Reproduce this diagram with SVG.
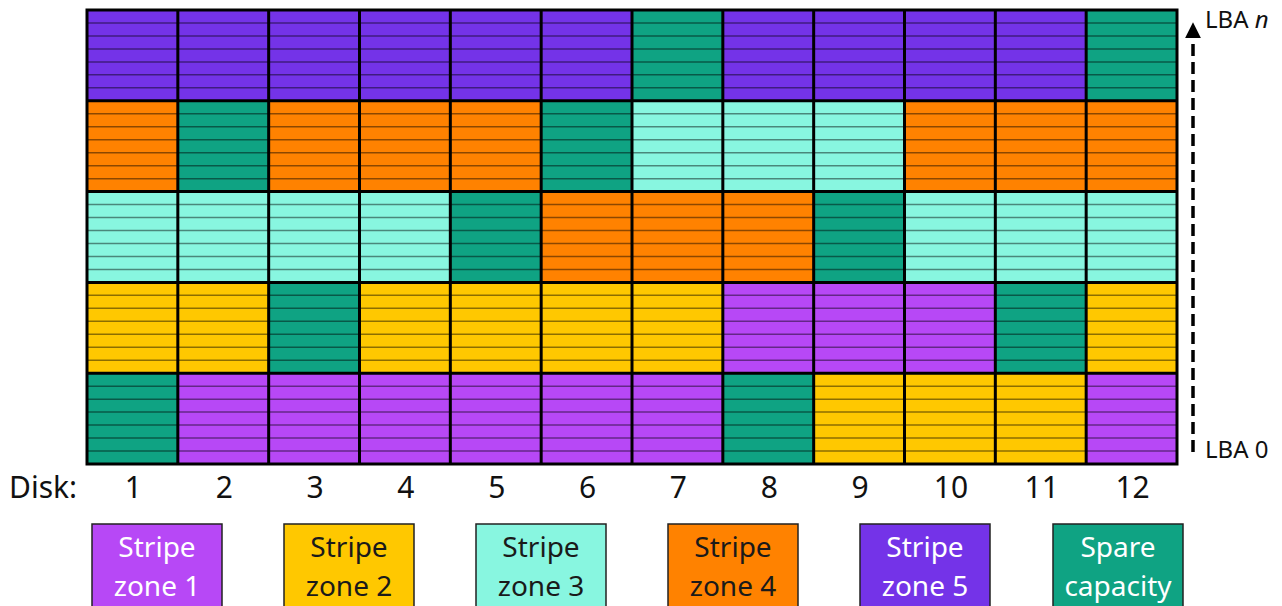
<svg xmlns="http://www.w3.org/2000/svg" width="1282" height="606" viewBox="0 0 1282 606">
<style>
.p5{fill:#7433E8}.p1{fill:#B748F6}.o{fill:#FF8200}.y{fill:#FFC800}.c{fill:#88F6E0}.t{fill:#0FA383}
.lbl{font-family:"Noto Sans","Open Sans",sans-serif;font-size:30px;fill:#111;text-anchor:middle}
.lg{font-family:"Noto Sans","Open Sans",sans-serif;font-size:28px;text-anchor:middle}
.w{fill:#fff}.d{fill:#1a1a1a}
.box{stroke:#222;stroke-width:1.5}
.strip{stroke:#000;stroke-opacity:0.45;stroke-width:1.5;fill:none}
</style>
<defs>
<marker id="ah" viewBox="0 0 10 10" refX="2" refY="5" markerWidth="16" markerHeight="16" markerUnits="userSpaceOnUse" orient="auto">
<path d="M0,0 L10,5 L0,10 Z" fill="#000"/>
</marker>
</defs>
<g id="grid">
<g id="row5">
<rect class="p5" x="87" y="10" width="90.84" height="90.8"/>
<rect class="p5" x="177.83" y="10" width="90.84" height="90.8"/>
<rect class="p5" x="268.67" y="10" width="90.84" height="90.8"/>
<rect class="p5" x="359.5" y="10" width="90.84" height="90.8"/>
<rect class="p5" x="450.33" y="10" width="90.84" height="90.8"/>
<rect class="p5" x="541.17" y="10" width="90.84" height="90.8"/>
<rect class="t" x="632" y="10" width="90.84" height="90.8"/>
<rect class="p5" x="722.83" y="10" width="90.84" height="90.8"/>
<rect class="p5" x="813.67" y="10" width="90.84" height="90.8"/>
<rect class="p5" x="904.5" y="10" width="90.84" height="90.8"/>
<rect class="p5" x="995.33" y="10" width="90.84" height="90.8"/>
<rect class="t" x="1086.17" y="10" width="90.84" height="90.8"/>
</g>
<g id="row4">
<rect class="o" x="87" y="100.8" width="90.84" height="90.8"/>
<rect class="t" x="177.83" y="100.8" width="90.84" height="90.8"/>
<rect class="o" x="268.67" y="100.8" width="90.84" height="90.8"/>
<rect class="o" x="359.5" y="100.8" width="90.84" height="90.8"/>
<rect class="o" x="450.33" y="100.8" width="90.84" height="90.8"/>
<rect class="t" x="541.17" y="100.8" width="90.84" height="90.8"/>
<rect class="c" x="632" y="100.8" width="90.84" height="90.8"/>
<rect class="c" x="722.83" y="100.8" width="90.84" height="90.8"/>
<rect class="c" x="813.67" y="100.8" width="90.84" height="90.8"/>
<rect class="o" x="904.5" y="100.8" width="90.84" height="90.8"/>
<rect class="o" x="995.33" y="100.8" width="90.84" height="90.8"/>
<rect class="o" x="1086.17" y="100.8" width="90.84" height="90.8"/>
</g>
<g id="row3">
<rect class="c" x="87" y="191.6" width="90.84" height="90.8"/>
<rect class="c" x="177.83" y="191.6" width="90.84" height="90.8"/>
<rect class="c" x="268.67" y="191.6" width="90.84" height="90.8"/>
<rect class="c" x="359.5" y="191.6" width="90.84" height="90.8"/>
<rect class="t" x="450.33" y="191.6" width="90.84" height="90.8"/>
<rect class="o" x="541.17" y="191.6" width="90.84" height="90.8"/>
<rect class="o" x="632" y="191.6" width="90.84" height="90.8"/>
<rect class="o" x="722.83" y="191.6" width="90.84" height="90.8"/>
<rect class="t" x="813.67" y="191.6" width="90.84" height="90.8"/>
<rect class="c" x="904.5" y="191.6" width="90.84" height="90.8"/>
<rect class="c" x="995.33" y="191.6" width="90.84" height="90.8"/>
<rect class="c" x="1086.17" y="191.6" width="90.84" height="90.8"/>
</g>
<g id="row2">
<rect class="y" x="87" y="282.4" width="90.84" height="90.8"/>
<rect class="y" x="177.83" y="282.4" width="90.84" height="90.8"/>
<rect class="t" x="268.67" y="282.4" width="90.84" height="90.8"/>
<rect class="y" x="359.5" y="282.4" width="90.84" height="90.8"/>
<rect class="y" x="450.33" y="282.4" width="90.84" height="90.8"/>
<rect class="y" x="541.17" y="282.4" width="90.84" height="90.8"/>
<rect class="y" x="632" y="282.4" width="90.84" height="90.8"/>
<rect class="p1" x="722.83" y="282.4" width="90.84" height="90.8"/>
<rect class="p1" x="813.67" y="282.4" width="90.84" height="90.8"/>
<rect class="p1" x="904.5" y="282.4" width="90.84" height="90.8"/>
<rect class="t" x="995.33" y="282.4" width="90.84" height="90.8"/>
<rect class="y" x="1086.17" y="282.4" width="90.84" height="90.8"/>
</g>
<g id="row1">
<rect class="t" x="87" y="373.2" width="90.84" height="90.8"/>
<rect class="p1" x="177.83" y="373.2" width="90.84" height="90.8"/>
<rect class="p1" x="268.67" y="373.2" width="90.84" height="90.8"/>
<rect class="p1" x="359.5" y="373.2" width="90.84" height="90.8"/>
<rect class="p1" x="450.33" y="373.2" width="90.84" height="90.8"/>
<rect class="p1" x="541.17" y="373.2" width="90.84" height="90.8"/>
<rect class="p1" x="632" y="373.2" width="90.84" height="90.8"/>
<rect class="t" x="722.83" y="373.2" width="90.84" height="90.8"/>
<rect class="y" x="813.67" y="373.2" width="90.84" height="90.8"/>
<rect class="y" x="904.5" y="373.2" width="90.84" height="90.8"/>
<rect class="y" x="995.33" y="373.2" width="90.84" height="90.8"/>
<rect class="p1" x="1086.17" y="373.2" width="90.84" height="90.8"/>
</g>
<path class="strip" d="M87,22.97H1177M87,35.94H1177M87,48.91H1177M87,61.89H1177M87,74.86H1177M87,87.83H1177M87,113.77H1177M87,126.74H1177M87,139.71H1177M87,152.69H1177M87,165.66H1177M87,178.63H1177M87,204.57H1177M87,217.54H1177M87,230.51H1177M87,243.49H1177M87,256.46H1177M87,269.43H1177M87,295.37H1177M87,308.34H1177M87,321.31H1177M87,334.29H1177M87,347.26H1177M87,360.23H1177M87,386.17H1177M87,399.14H1177M87,412.11H1177M87,425.09H1177M87,438.06H1177M87,451.03H1177"/>
<path d="M177.83,10V464M268.67,10V464M359.5,10V464M450.33,10V464M541.17,10V464M632,10V464M722.83,10V464M813.67,10V464M904.5,10V464M995.33,10V464M1086.17,10V464M87,100.8H1177M87,191.6H1177M87,282.4H1177M87,373.2H1177" stroke="#000" stroke-width="3" fill="none"/>
<rect x="87" y="10" width="1090" height="454" fill="none" stroke="#000" stroke-width="3"/>
</g>
<g id="connectors">
<line x1="1193" y1="452" x2="1193" y2="35" stroke="#000" stroke-width="3.5" stroke-dasharray="12,6" marker-end="url(#ah)"/>
</g>
<g id="lba-labels">
<text x="1205" y="28" font-family="Noto Sans, Open Sans, sans-serif" font-size="24" fill="#111">LBA <tspan font-style="italic">n</tspan></text>
<text x="1205" y="458" font-family="Noto Sans, Open Sans, sans-serif" font-size="24" fill="#111">LBA 0</text>
</g>
<g id="disk-labels">
<text x="9" y="498" font-family="Noto Sans, Open Sans, sans-serif" font-size="30" fill="#111">Disk:</text>
<text class="lbl" x="133.4" y="498">1</text>
<text class="lbl" x="224.25" y="498">2</text>
<text class="lbl" x="315.1" y="498">3</text>
<text class="lbl" x="405.9" y="498">4</text>
<text class="lbl" x="496.75" y="498">5</text>
<text class="lbl" x="587.6" y="498">6</text>
<text class="lbl" x="678.4" y="498">7</text>
<text class="lbl" x="769.25" y="498">8</text>
<text class="lbl" x="860.1" y="498">9</text>
<text class="lbl" x="950.9" y="498">10</text>
<text class="lbl" x="1041.75" y="498">11</text>
<text class="lbl" x="1132.6" y="498">12</text>
</g>
<g id="legend-zone1">
<rect class="p1 box" x="92" y="524" width="130" height="90"/>
<text class="lg w" x="157" y="557">Stripe</text>
<text class="lg w" x="157" y="596">zone 1</text>
</g>
<g id="legend-zone2">
<rect class="y box" x="284" y="524" width="130" height="90"/>
<text class="lg d" x="349" y="557">Stripe</text>
<text class="lg d" x="349" y="596">zone 2</text>
</g>
<g id="legend-zone3">
<rect class="c box" x="476" y="524" width="130" height="90"/>
<text class="lg d" x="541" y="557">Stripe</text>
<text class="lg d" x="541" y="596">zone 3</text>
</g>
<g id="legend-zone4">
<rect class="o box" x="668" y="524" width="130" height="90"/>
<text class="lg d" x="733" y="557">Stripe</text>
<text class="lg d" x="733" y="596">zone 4</text>
</g>
<g id="legend-zone5">
<rect class="p5 box" x="860" y="524" width="130" height="90"/>
<text class="lg w" x="925" y="557">Stripe</text>
<text class="lg w" x="925" y="596">zone 5</text>
</g>
<g id="legend-spare">
<rect class="t box" x="1053" y="524" width="130" height="90"/>
<text class="lg w" x="1118" y="557">Spare</text>
<text class="lg w" x="1118" y="596">capacity</text>
</g>
</svg>
